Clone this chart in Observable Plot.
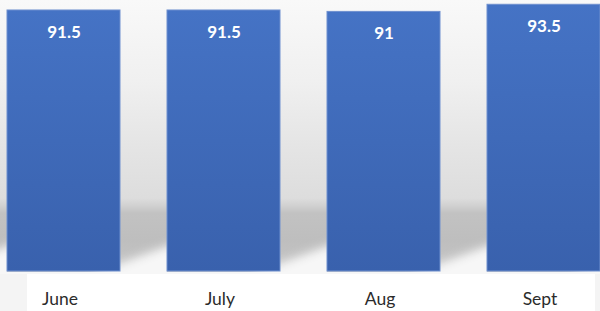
<!DOCTYPE html>
<html><head><meta charset="utf-8">
<script src="https://cdn.jsdelivr.net/npm/d3@7"></script>
<script src="https://cdn.jsdelivr.net/npm/@observablehq/plot@0.6"></script>
<style>html,body{margin:0;padding:0;background:#fff;} svg{display:block}</style>
</head><body><div id="chart"></div>
<script>
const months = ["June", "July", "Aug", "Sept"];
const values = [91.5, 91.5, 91, 93.5];
const valueLabels = ["91.5", "91.5", "91", "93.5"];
const data = months.map((m, i) => ({month: m, value: values[i], label: valueLabels[i]}));

const chart = Plot.plot({
  width: 600, height: 311,
  marginTop: 0, marginBottom: 40, marginLeft: 0, marginRight: 0,
  style: {background: "transparent", fontFamily: "Lato, sans-serif"},
  x: {domain: months, paddingInner: 0.294, paddingOuter: 0.022, align: 1, label: null},
  y: {domain: [0, 95], axis: null},
  marks: [
    Plot.barY(data, {x: "month", y: "value", fill: "url(#barGrad)", stroke: "#6f90cf", strokeWidth: 1}),
    Plot.text(data, {x: "month", y: "value", text: "label", dy: 22, fill: "white", fontWeight: "bold", fontSize: 17}),
    Plot.axisX({tickSize: 0, tickPadding: 21, fontSize: 17.5, fill: "#2b2b2b", label: null, dx: -4})
  ]
});

// decorative background (gradient wall + floor shadow)
const ns = "http://www.w3.org/2000/svg";
const bg = document.createElementNS(ns, "g");
bg.innerHTML = `
<defs>
  <linearGradient id="barGrad" x1="0" y1="0" x2="0" y2="1">
    <stop offset="0" stop-color="#4573c5"/>
    <stop offset="1" stop-color="#3961ad"/>
  </linearGradient>
  <linearGradient id="wallGrad" gradientUnits="userSpaceOnUse" x1="0" y1="0" x2="0" y2="272">
    <stop offset="0" stop-color="#f9f9f9"/>
    <stop offset="${80/272}" stop-color="#f0f0f0"/>
    <stop offset="${150/272}" stop-color="#e4e4e4"/>
    <stop offset="${198/272}" stop-color="#dddddd"/>
    <stop offset="${205/272}" stop-color="#d2d2d2"/>
    <stop offset="${213/272}" stop-color="#c2c2c2"/>
    <stop offset="${240/272}" stop-color="#bebebe"/>
    <stop offset="1" stop-color="#c6c6c6"/>
  </linearGradient>
  <filter id="soft" x="-50%" y="-50%" width="200%" height="200%">
    <feGaussianBlur stdDeviation="5"/>
  </filter>
  <pattern id="floorPat" patternUnits="userSpaceOnUse" x="7" y="0" width="160" height="311">
    <polygon points="85,274 220,224 220,300 85,300" fill="#f7f7f7" filter="url(#soft)"/>
  </pattern>
</defs>
<rect x="0" y="0" width="600" height="311" fill="#f4f4f4"/>
<rect x="0" y="0" width="600" height="272" fill="url(#wallGrad)"/>
<rect x="0" y="190" width="600" height="82" fill="url(#floorPat)"/>
<rect x="0" y="272" width="600" height="2" fill="#f7f7f7"/>
<rect x="27" y="274" width="568" height="37" fill="#ffffff"/>
`;
let first = chart.firstChild;
while (first && first.nodeName.toLowerCase() === "style") first = first.nextSibling;
chart.insertBefore(bg, first);
document.getElementById("chart").appendChild(chart);
</script>
</body></html>
